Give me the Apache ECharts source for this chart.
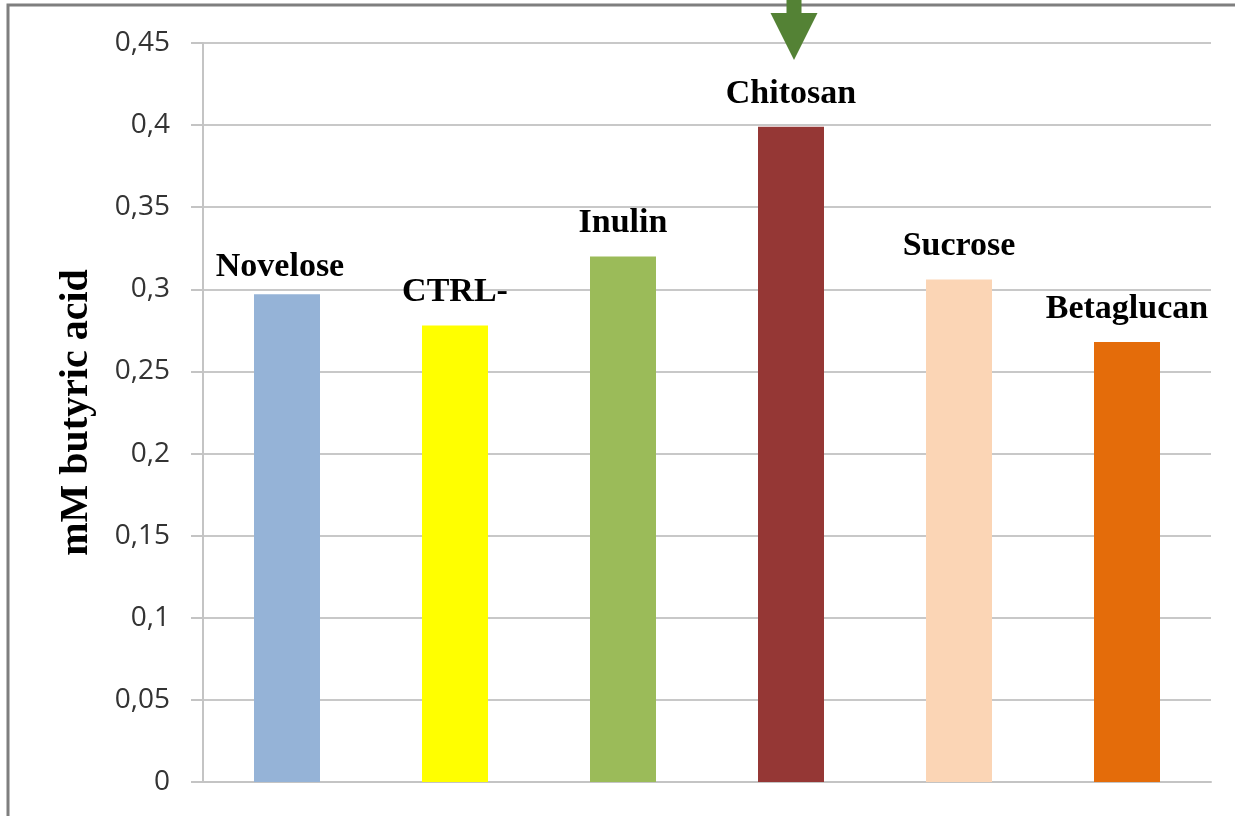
<!DOCTYPE html>
<html>
<head>
<meta charset="utf-8">
<script src="https://cdn.jsdelivr.net/npm/echarts@6/dist/echarts.min.js"></script>
<style>
  html, body { margin: 0; padding: 0; background: #fff; }
  #chart { width: 1235px; height: 816px; }
</style>
</head>
<body>
<div id="chart"></div>
<script>
// Butyric acid concentration per substrate
const categories = ['Novelose', 'CTRL-', 'Inulin', 'Chitosan', 'Sucrose', 'Betaglucan'];
const butyricAcid = [0.297, 0.278, 0.320, 0.399, 0.306, 0.268];
const barColors = ['#95B3D7', '#FFFF00', '#9BBB59', '#953735', '#FBD5B5', '#E46C0A'];
const yTickLabels = ['0', '0,05', '0,1', '0,15', '0,2', '0,25', '0,3', '0,35', '0,4', '0,45'];
const yStep = 0.05;
const highlighted = 'Chitosan';

const chart = echarts.init(document.getElementById('chart'), null, { renderer: 'canvas' });

const labelFont = {
  fontFamily: '"Liberation Serif", "Times New Roman", serif',
  fontWeight: 'bold',
  fontSize: 34,
  color: '#000'
};

chart.setOption({
  animation: false,
  backgroundColor: '#fff',
  grid: { left: 203, right: 24, top: 43, bottom: 34, containLabel: false },
  xAxis: {
    type: 'category',
    data: categories,
    axisLabel: { show: false },
    axisTick: { show: false },
    axisLine: { lineStyle: { color: '#c4c4c4', width: 2 } }
  },
  yAxis: {
    type: 'value',
    min: 0,
    max: 0.45,
    interval: yStep,
    name: 'mM butyric acid',
    nameLocation: 'middle',
    nameGap: 106,
    nameTextStyle: {
      fontFamily: '"Liberation Serif", "Times New Roman", serif',
      fontWeight: 'bold',
      fontSize: 40,
      color: '#000'
    },
    axisLine: { show: true, lineStyle: { color: '#c4c4c4', width: 2 } },
    axisTick: { show: true, length: 12, lineStyle: { color: '#c4c4c4', width: 2 } },
    axisLabel: {
      margin: 33,
      fontFamily: '"Open Sans", sans-serif',
      fontSize: 28,
      color: '#333',
      formatter: v => yTickLabels[Math.round(v / yStep)]
    },
    splitLine: { lineStyle: { color: '#c8c8c8', width: 2 } }
  },
  series: [{
    type: 'bar',
    barWidth: 66,
    data: butyricAcid.map((v, i) => {
      const item = { value: v, itemStyle: { color: barColors[i] } };
      if (categories[i] === 'Novelose') item.label = { offset: [-7, 6] };
      return item;
    }),
    label: Object.assign({
      show: true,
      position: 'top',
      distance: 16,
      formatter: p => p.name
    }, labelFont)
  }]
});

// Frame around the figure and the arrow pointing at the highlighted bar
function drawOverlay() {
  const cx = chart.convertToPixel({ xAxisIndex: 0 }, highlighted) + 3;
  chart.setOption({
    graphic: [
      {
        type: 'rect',
        z: 100,
        shape: { x: 8, y: 5, width: 1400, height: 1000 },
        style: { fill: 'none', stroke: '#7f7f7f', lineWidth: 3 }
      },
      {
        type: 'polygon',
        z: 101,
        shape: {
          points: [
            [cx - 7.5, 0], [cx + 7.5, 0], [cx + 7.5, 13],
            [cx + 23.5, 13], [cx, 60], [cx - 23.5, 13], [cx - 7.5, 13]
          ]
        },
        style: { fill: '#548235' }
      }
    ]
  });
}
drawOverlay();
</script>
</body>
</html>
